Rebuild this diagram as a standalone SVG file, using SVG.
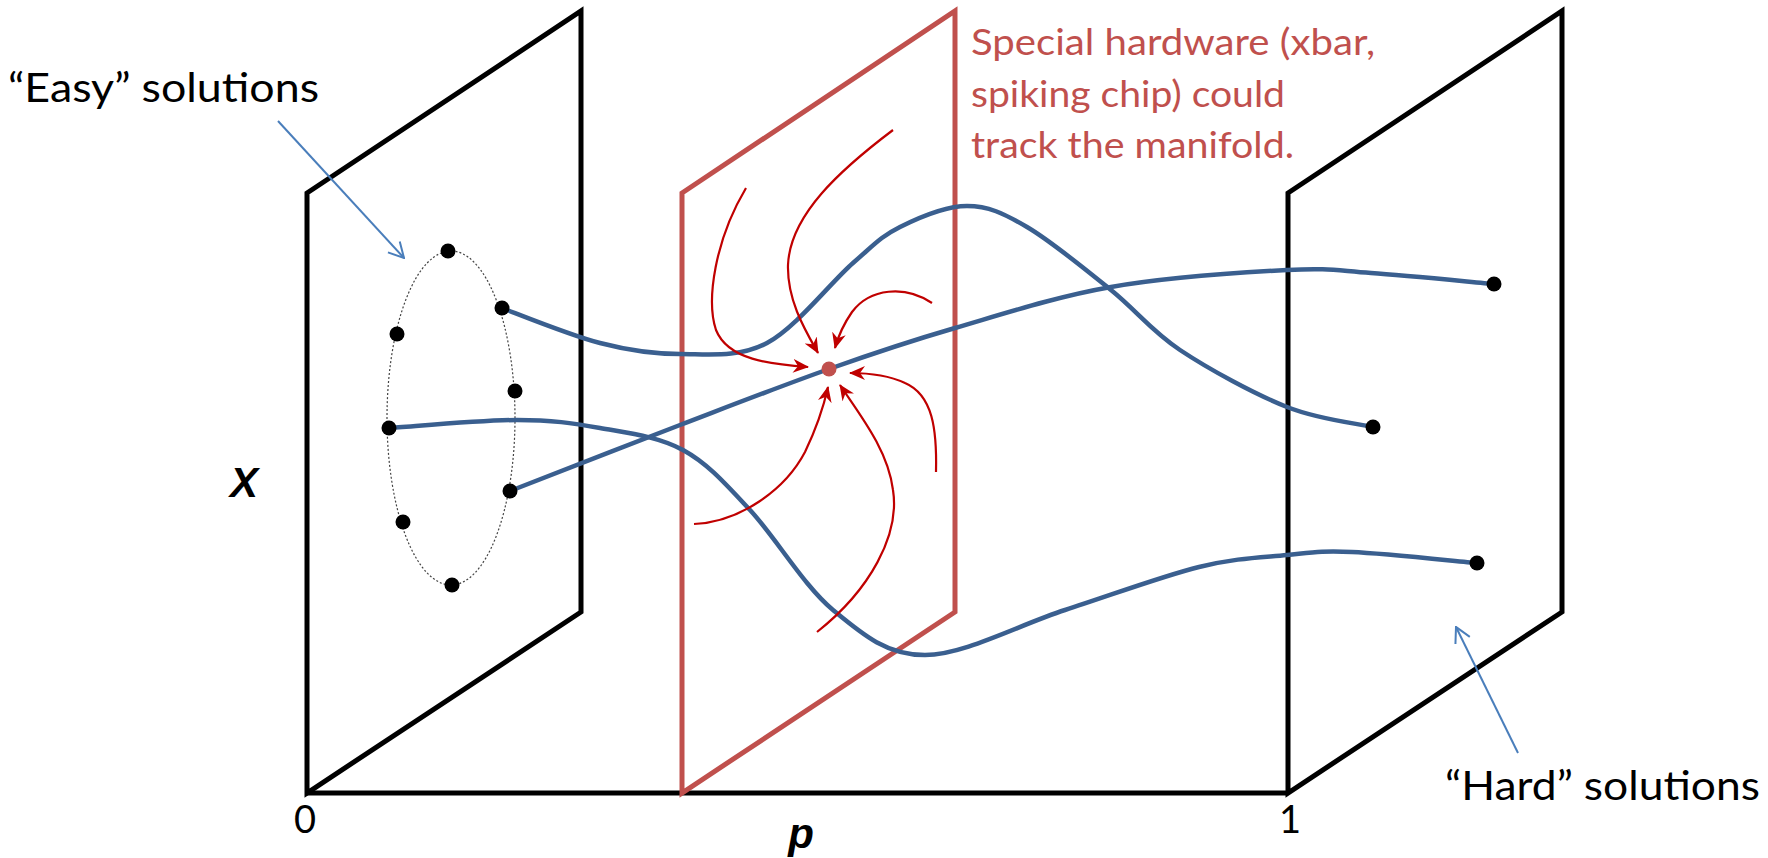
<svg xmlns="http://www.w3.org/2000/svg" width="1768" height="858" viewBox="0 0 1768 858">
<defs>
<style>
.panel{fill:none;stroke:#000;stroke-width:5;stroke-linejoin:miter}
.rpanel{fill:none;stroke:#C0504D;stroke-width:5;stroke-linejoin:miter}
.traj{fill:none;stroke:#3A5F8F;stroke-width:4.5;stroke-linecap:round}
.flow{fill:none;stroke:#C00000;stroke-width:2.2;marker-end:url(#redhead)}
.lead{fill:none;stroke:#4A7EBB;stroke-width:2;marker-end:url(#openhead)}
.dot{fill:#000}
.lbl{font-family:Lato,"Liberation Sans",sans-serif;fill:#000}
.note{font-family:Lato,"Liberation Sans",sans-serif;fill:#C0504D;font-size:36px}
.axis{font-family:"Liberation Sans",Arial,sans-serif;font-weight:bold;font-style:italic;font-size:42px;fill:#000}
</style>
<marker id="redhead" viewBox="0 0 16 14" refX="15" refY="7" markerWidth="16" markerHeight="14" markerUnits="userSpaceOnUse" orient="auto">
<path d="M0,0 L16,7 L0,14 L5,7 z" fill="#C00000"/>
</marker>
<marker id="openhead" viewBox="0 0 20 20" refX="19" refY="10" markerWidth="20" markerHeight="20" markerUnits="userSpaceOnUse" orient="auto">
<path d="M4,2 L19,10 L4,18" fill="none" stroke="#4A7EBB" stroke-width="2"/>
</marker>
</defs>

<g id="axis">
<line x1="307" y1="793" x2="1288" y2="793" stroke="#000" stroke-width="5"/>
</g>

<g id="panel-left">
<polygon class="panel" points="307,193 581,11 581,612 307,793"/>
</g>
<g id="panel-right">
<polygon class="panel" points="1288,193 1562,11 1562,612 1288,793"/>
</g>
<g id="panel-mid">
<polygon class="rpanel" points="682,193 955,11 955,612 682,793"/>
</g>

<g id="easy-set">
<ellipse cx="451" cy="418" rx="64" ry="167" fill="none" stroke="#444" stroke-width="1.2" stroke-dasharray="2,2"/>
</g>

<g id="connectors">
<path class="traj" d="M502,308 C518,314 570.3,335.3 600,343 C629.7,350.7 652.2,354 680,354 C707.8,354 738.2,358.2 767,343 C795.8,327.8 830.8,282.3 853,263 C875.2,243.7 881,236.5 900,227 C919,217.5 945.8,206 967,206 C988.2,206 1003,213 1027,227 C1051,241 1085.5,269.5 1111,290 C1136.5,310.5 1150.7,330.5 1180,350 C1209.3,369.5 1254.8,394.2 1287,407 C1319.2,419.8 1358.7,423.7 1373,427"/>
<path class="traj" d="M510,491 C538.3,480 626.8,445.3 680,425 C733.2,404.7 783.2,385.2 829,369 C874.8,352.8 908,341.7 955,328 C1002,314.3 1055.7,296.7 1111,287 C1166.3,277.3 1243.7,272.3 1287,270 C1330.3,267.7 1336.5,270.7 1371,273 C1405.5,275.3 1473.5,282.2 1494,284"/>
<path class="traj" d="M389,428 C410.3,426.7 481.8,420 517,420 C552.2,420 572.3,423 600,428 C627.7,433 658,436.3 683,450 C708,463.7 725,483.3 750,510 C775,536.7 803.8,585.8 833,610 C862.2,634.2 886.3,655 925,655 C963.7,655 1019.3,624.7 1065,610 C1110.7,595.3 1162,576.2 1199,567 C1236,557.8 1261.5,557.5 1287,555 C1312.5,552.5 1320.3,550.7 1352,552 C1383.7,553.3 1456.2,561.2 1477,563"/>

<path class="flow" d="M746,188 C715,240 706,300 716,330 C728,360 770,364 808,367"/>
<path class="flow" d="M893,130 C840,170 790,215 788,265 C787,300 805,330 818,353"/>
<path class="flow" d="M932,303 C905,285 870,288 852,312 C843,325 838,337 835,348"/>
<path class="flow" d="M936,472 C937,430 933,395 905,383 C890,376 868,373 850,373"/>
<path class="flow" d="M817,632 C870,590 900,535 893,490 C888,450 860,415 840,385"/>
<path class="flow" d="M694,524 C740,522 785,490 805,452 C818,425 824,405 828,387"/>

<line class="lead" x1="278" y1="121" x2="404" y2="258"/>
<line class="lead" x1="1518" y1="753" x2="1456" y2="627"/>
</g>

<g id="dots-easy">
<circle class="dot" cx="448" cy="251" r="7.5"/>
<circle class="dot" cx="502" cy="308" r="7.5"/>
<circle class="dot" cx="397" cy="334" r="7.5"/>
<circle class="dot" cx="515" cy="391" r="7.5"/>
<circle class="dot" cx="389" cy="428" r="7.5"/>
<circle class="dot" cx="510" cy="491" r="7.5"/>
<circle class="dot" cx="403" cy="522" r="7.5"/>
<circle class="dot" cx="452" cy="585" r="7.5"/>
</g>
<g id="dots-hard">
<circle class="dot" cx="1494" cy="284" r="7.5"/>
<circle class="dot" cx="1373" cy="427" r="7.5"/>
<circle class="dot" cx="1477" cy="563" r="7.5"/>
</g>
<g id="fixed-point">
<circle cx="829" cy="369" r="7.5" fill="#C0504D"/>
</g>

<g id="label-easy">
<text class="lbl" x="8" y="102" font-size="40" textLength="311" lengthAdjust="spacingAndGlyphs">“Easy” solutions</text>
</g>
<g id="label-hard">
<text class="lbl" x="1445" y="800" font-size="40" textLength="315" lengthAdjust="spacingAndGlyphs">“Hard” solutions</text>
</g>
<g id="label-note">
<text class="note" x="971" y="55" textLength="404" lengthAdjust="spacingAndGlyphs">Special hardware (xbar,</text>
<text class="note" x="971" y="107" textLength="314" lengthAdjust="spacingAndGlyphs">spiking chip) could</text>
<text class="note" x="971" y="158" textLength="323" lengthAdjust="spacingAndGlyphs">track the manifold.</text>
</g>
<g id="axis-labels">
<text class="lbl" x="305" y="833" font-size="38" text-anchor="middle">0</text>
<text class="lbl" x="1290" y="833" font-size="38" text-anchor="middle">1</text>
<text class="axis" x="801" y="848" text-anchor="middle">p</text>
<text class="axis" x="244" y="497" text-anchor="middle">X</text>
</g>
</svg>
